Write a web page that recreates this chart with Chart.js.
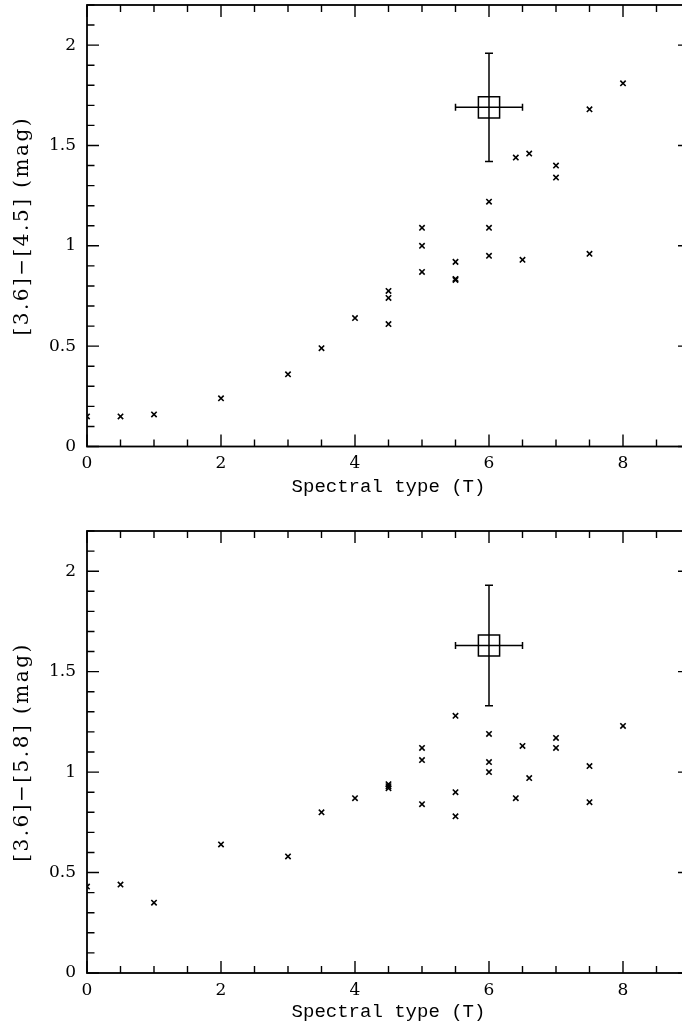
<!DOCTYPE html>
<html>
<head>
<meta charset="utf-8">
<script src="https://cdn.jsdelivr.net/npm/chart.js@4.4.1/dist/chart.umd.min.js"></script>
<style>
    html, body { margin: 0; padding: 0; background: #fff; overflow: hidden; }
    #wrap { width: 690px; }
    canvas { display: block; }
</style>
</head>
<body>
<div id="wrap">
    <canvas id="top" width="690" height="520"></canvas>
    <canvas id="bottom" width="690" height="511"></canvas>
</div>
<script>
// Spectral types and colours of the T dwarf comparison sample
const sptTop = [0, 0.5, 1, 2, 3, 3.5, 4, 4.5, 4.5, 4.5, 5, 5, 5, 5.5, 5.5, 5.5, 6, 6, 6, 6.4, 6.5, 6.6, 7, 7, 7.5, 7.5, 8];
const col36_45 = [0.15, 0.15, 0.16, 0.24, 0.36, 0.49, 0.64, 0.775, 0.74, 0.61, 1.09, 1.00, 0.87, 0.92, 0.83, 0.835, 1.22, 1.09, 0.95, 1.44, 0.93, 1.46, 1.40, 1.34, 1.68, 0.96, 1.81];

const sptBottom = [0, 0.5, 1, 2, 3, 3.5, 4, 4.5, 4.5, 4.5, 5, 5, 5, 5.5, 5.5, 5.5, 6, 6, 6, 6.4, 6.5, 6.6, 7, 7, 7.5, 7.5, 8];
const col36_58 = [0.43, 0.44, 0.35, 0.64, 0.58, 0.80, 0.87, 0.92, 0.93, 0.94, 1.12, 1.06, 0.84, 1.28, 0.90, 0.78, 1.19, 1.05, 1.00, 0.87, 1.13, 0.97, 1.17, 1.12, 1.03, 0.85, 1.23];

// The target object (big square with error bars)
const targetSpt = [6];
const targetTop = [1.69];
const targetBottom = [1.63];
const targetErrX = [0.5];
const targetErrTop = [0.27];
const targetErrBottom = [0.30];

const xTickLabels = [0, 2, 4, 6, 8];
const yTickLabels = [0, 0.5, 1, 1.5, 2];

const TICK_FONT = { family: "'DejaVu Serif', serif", size: 17 };
const XTITLE_FONT = { family: "'Liberation Mono', monospace", size: 19, lineHeight: 1.2 };

// PGPLOT-style box: frame plus inward ticks on all four sides, and the
// spaced-out y label (canvas letterSpacing, which Chart.js titles lack)
const boxPlugin = {
    id: 'pgbox',
    afterDatasetsDraw(chart, args, opts) {
        const { ctx, chartArea: a, scales: { x, y } } = chart;
        ctx.save();
        ctx.strokeStyle = '#000';
        ctx.lineWidth = 1.4;
        ctx.beginPath();
        const xs = [[0.5, 7], [2, 12]];
        for (const [step, len] of xs) {
            for (let i = 0; i * step <= x.max + 1e-9; i++) {
                const px = x.getPixelForValue(i * step);
                ctx.moveTo(px, a.bottom); ctx.lineTo(px, a.bottom - len);
                ctx.moveTo(px, a.top); ctx.lineTo(px, a.top + len);
            }
        }
        const ys = [[0.1, 7.5], [0.5, 12]];
        for (const [step, len] of ys) {
            for (let i = 0; i * step <= y.max + 1e-9; i++) {
                const py = y.getPixelForValue(i * step);
                ctx.moveTo(a.left, py); ctx.lineTo(a.left + len, py);
                ctx.moveTo(a.right, py); ctx.lineTo(a.right - len, py);
            }
        }
        ctx.stroke();
        ctx.lineWidth = 1.8;
        ctx.strokeRect(a.left, a.top, a.right - a.left, a.bottom - a.top);

        // y axis label
        ctx.translate(23, (a.top + a.bottom) / 2);
        ctx.rotate(-Math.PI / 2);
        ctx.fillStyle = '#000';
        ctx.font = "20px 'DejaVu Serif', serif";
        ctx.letterSpacing = '2.5px';
        ctx.textAlign = 'center';
        ctx.textBaseline = 'middle';
        ctx.fillText(opts.yTitle, 0, 0);
        ctx.restore();
    }
};

// error bars for the target, drawn through the library's scales
const errorBarPlugin = {
    id: 'errbars',
    afterDatasetsDraw(chart, args, opts) {
        const { ctx, scales: { x, y } } = chart;
        ctx.save();
        ctx.strokeStyle = '#000';
        ctx.lineWidth = 1.5;
        ctx.beginPath();
        opts.xv.forEach((xv, i) => {
            const yv = opts.yv[i];
            const cx = x.getPixelForValue(xv), cy = y.getPixelForValue(yv);
            const x0 = x.getPixelForValue(xv - opts.ex[i]), x1 = x.getPixelForValue(xv + opts.ex[i]);
            const y0 = y.getPixelForValue(yv - opts.ey[i]), y1 = y.getPixelForValue(yv + opts.ey[i]);
            ctx.moveTo(x0, cy); ctx.lineTo(x1, cy);
            ctx.moveTo(x0, cy - 3.5); ctx.lineTo(x0, cy + 3.5);
            ctx.moveTo(x1, cy - 3.5); ctx.lineTo(x1, cy + 3.5);
            ctx.moveTo(cx, y0); ctx.lineTo(cx, y1);
            ctx.moveTo(cx - 4, y0); ctx.lineTo(cx + 4, y0);
            ctx.moveTo(cx - 4, y1); ctx.lineTo(cx + 4, y1);
        });
        ctx.stroke();
        ctx.restore();
    }
};

function noPadding(s) {
    s.paddingTop = 0; s.paddingBottom = 0; s.paddingLeft = 0; s.paddingRight = 0;
}

function makeChart(id, spt, col, tgt, errY, yTitle, padTop, xHeight, xTitlePad) {
    const ctx = document.getElementById(id).getContext('2d');
    return new Chart(ctx, {
        type: 'scatter',
        data: {
            datasets: [
                {
                    data: spt.map((s, i) => ({ x: s, y: col[i] })),
                    pointStyle: 'crossRot',
                    pointRadius: 3.8,
                    borderColor: '#000',
                    borderWidth: 1.6,
                    clip: 0
                },
                {
                    data: targetSpt.map((s, i) => ({ x: s, y: tgt[i] })),
                    pointStyle: 'rect',
                    pointRadius: 15,
                    backgroundColor: 'rgba(0,0,0,0)',
                    borderColor: '#000',
                    borderWidth: 1.5,
                    clip: 0
                }
            ]
        },
        options: {
            responsive: false,
            animation: false,
            events: [],
            layout: { autoPadding: false, padding: { top: padTop, left: 0, right: 0, bottom: 0 } },
            plugins: {
                legend: { display: false },
                tooltip: { enabled: false },
                errbars: { xv: targetSpt, yv: tgt, ex: targetErrX, ey: errY },
                pgbox: { yTitle: yTitle }
            },
            scales: {
                x: {
                    type: 'linear',
                    min: 0,
                    max: 9,
                    grid: { display: false, drawTicks: false },
                    border: { display: false },
                    afterBuildTicks: (s) => { s.ticks = xTickLabels.map(v => ({ value: v })); },
                    afterFit: (s) => { s.height = xHeight; noPadding(s); },
                    ticks: { color: '#000', font: TICK_FONT, padding: 7, maxRotation: 0,
                             callback: (v) => String(v) },
                    title: {
                        display: true,
                        text: 'Spectral type (T)',
                        color: '#000',
                        font: XTITLE_FONT,
                        padding: { top: 0, bottom: xTitlePad }
                    }
                },
                y: {
                    type: 'linear',
                    min: 0,
                    max: 2.2,
                    grid: { display: false, drawTicks: false },
                    border: { display: false },
                    afterBuildTicks: (s) => { s.ticks = yTickLabels.map(v => ({ value: v })); },
                    afterFit: (s) => { s.width = 87; noPadding(s); },
                    ticks: { color: '#000', font: TICK_FONT, padding: 11,
                             callback: (v) => String(v) },
                    title: { display: false }
                }
            }
        },
        plugins: [boxPlugin, errorBarPlugin]
    });
}

makeChart('top', sptTop, col36_45, targetTop, targetErrTop, '[3.6]\u2212[4.5] (mag)', 5, 73.5, 22);
makeChart('bottom', sptBottom, col36_58, targetBottom, targetErrBottom, '[3.6]\u2212[5.8] (mag)', 11, 58, 8);
</script>
</body>
</html>
